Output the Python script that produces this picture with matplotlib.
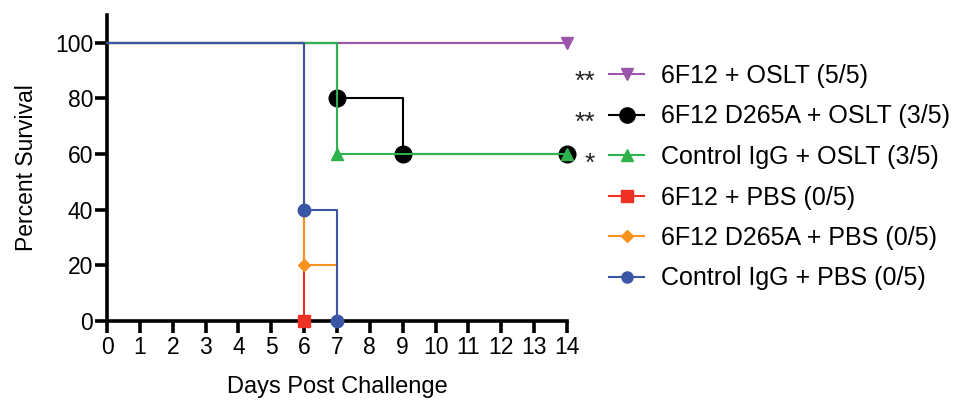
import matplotlib
matplotlib.use("Agg")
import matplotlib.pyplot as plt
from matplotlib.lines import Line2D

plt.rcParams['font.family'] = ['Liberation Sans', 'DejaVu Sans']

# Kaplan-Meier survival steps per group (day, percent surviving)
labels = [
    "6F12 + OSLT (5/5)",
    "6F12 D265A + OSLT (3/5)",
    "Control IgG + OSLT (3/5)",
    "6F12 + PBS (0/5)",
    "6F12 D265A + PBS (0/5)",
    "Control IgG + PBS (0/5)",
]
days = [
    [0, 14],
    [0, 7, 9, 14],
    [0, 7, 14],
    [0, 6],
    [0, 6, 7],
    [0, 6, 7],
]
survival = [
    [100, 100],
    [100, 80, 60, 60],
    [100, 60, 60],
    [100, 0],
    [100, 20, 0],
    [100, 40, 0],
]
significance = ["**", "**", "*", "", "", ""]

colors = ["#9B55AB", "#000000", "#2EB24B", "#EE3124", "#F7931E", "#3B56A5"]
markers = ["v", "o", "^", "s", "D", "o"]
msizes = [9, 12, 9, 9, 6, 9]
leg_msizes = [8, 11, 8, 8, 6, 8]

fig = plt.figure(figsize=(9.56, 4.01), dpi=100)
ax = fig.add_axes([0.112, 0.1995, 0.481, 0.763])

handles = []
for i, (t, s) in enumerate(zip(days, survival)):
    z = 2 + i
    ax.step(t, s, where="post", color=colors[i], lw=1.5, zorder=z, clip_on=False)
    ax.plot(t[1:], s[1:], linestyle="none", marker=markers[i], ms=msizes[i],
            color=colors[i], mec=colors[i], zorder=z, clip_on=False)
    handles.append(Line2D([0], [0], color=colors[i], lw=1.5, marker=markers[i],
                          ms=leg_msizes[i]))

ax.set_xlim(0, 14)
ax.set_ylim(0, 110)
ax.set_xticks(range(0, 15))
ax.set_yticks(range(0, 101, 20))
for side in ("top", "right"):
    ax.spines[side].set_visible(False)
for side in ("left", "bottom"):
    ax.spines[side].set_linewidth(2.6)
ax.spines["left"].set_bounds(0, 110)
ax.tick_params(axis="both", direction="out", length=8.5, width=2.6,
               labelsize=16.5)
ax.tick_params(axis="y", pad=1.5)
ax.tick_params(axis="x", pad=2.5)
ax.set_xlabel("Days Post Challenge", fontsize=17, labelpad=12)
ax.set_ylabel("Percent Survival", fontsize=16.5, labelpad=12)

leg = ax.legend(handles, labels, loc="upper left",
                bbox_to_anchor=(609 / 956, 1 - 64 / 401),
                bbox_transform=fig.transFigure, frameon=False,
                fontsize=18, handlelength=1.4, handletextpad=0.68,
                labelspacing=0.66, borderaxespad=0, borderpad=0)

row_y = [75, 116, 157, 198, 239, 280]
for sig, y in zip(significance, row_y):
    if sig:
        fig.text(595 / 956, 1 - (y + 14) / 401, sig, ha="right", va="baseline",
                 fontsize=19, color="#222222")

fig.savefig("out.png", dpi=100)
